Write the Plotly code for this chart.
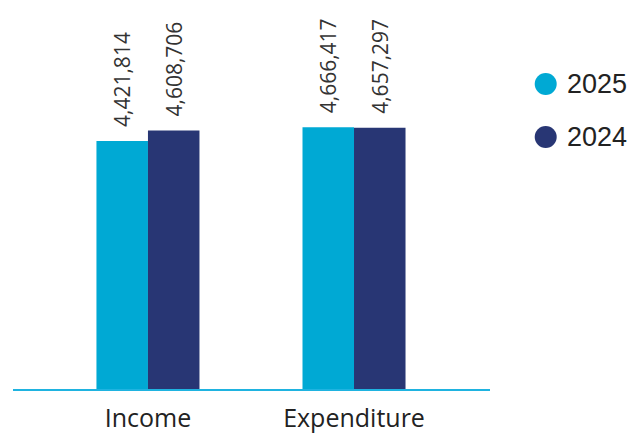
import plotly.graph_objects as go

categories = ["Income", "Expenditure"]
series_names = ["2025", "2024"]
values_2025 = [4421814, 4666417]
values_2024 = [4608706, 4657297]
colors = ["#00A9D4", "#283674"]

fig = go.Figure()
for name, vals, col in zip(series_names, [values_2025, values_2024], colors):
    fig.add_trace(go.Bar(
        x=categories, y=vals, name=name, marker_color=col, marker_line_width=0,
        text=["\u00a0\u00a0" + f"{v:,}" for v in vals], textposition="outside", textangle=-90,
        constraintext="none",
        textfont=dict(family="Open Sans", size=21, color="#333333"),
        cliponaxis=False, showlegend=False,
    ))

# custom legend (circle + label)
legend_y = [0.8047, 0.665]
for name, col, ly in zip(series_names, colors, legend_y):
    fig.add_shape(type="circle", xref="paper", yref="paper",
                  xsizemode="pixel", ysizemode="pixel",
                  xanchor=1.1168, yanchor=ly, x0=-11, x1=11, y0=-11, y1=11,
                  fillcolor=col, line_width=0)
    fig.add_annotation(x=1.157, y=ly, xref="paper", yref="paper", text=name,
                       showarrow=False, xanchor="left", yanchor="middle",
                       font=dict(family="Liberation Sans", size=27, color="#222222"))

W, H = 640, 434
top = 2
bottom = 53
px_per_unit = 56.1e-6
ymax = (H - top - bottom) / px_per_unit

fig.update_layout(
    width=W, height=H,
    margin=dict(l=5, r=158, t=top, b=bottom),
    paper_bgcolor="white", plot_bgcolor="white",
    barmode="group", bargap=0.5, bargroupgap=0,
    font=dict(family="Open Sans", color="#222222"),
    showlegend=False,
    xaxis=dict(range=[-0.655, 1.66], showline=True, linecolor="#1FB3E0", linewidth=1.5,
               ticks="", showgrid=False, zeroline=False, automargin=False,
               tickfont=dict(family="Open Sans", size=25, color="#222222"),
               ticklabelstandoff=6),
    yaxis=dict(range=[0, ymax], visible=False, automargin=False),
)

fig.write_html("out.html")
